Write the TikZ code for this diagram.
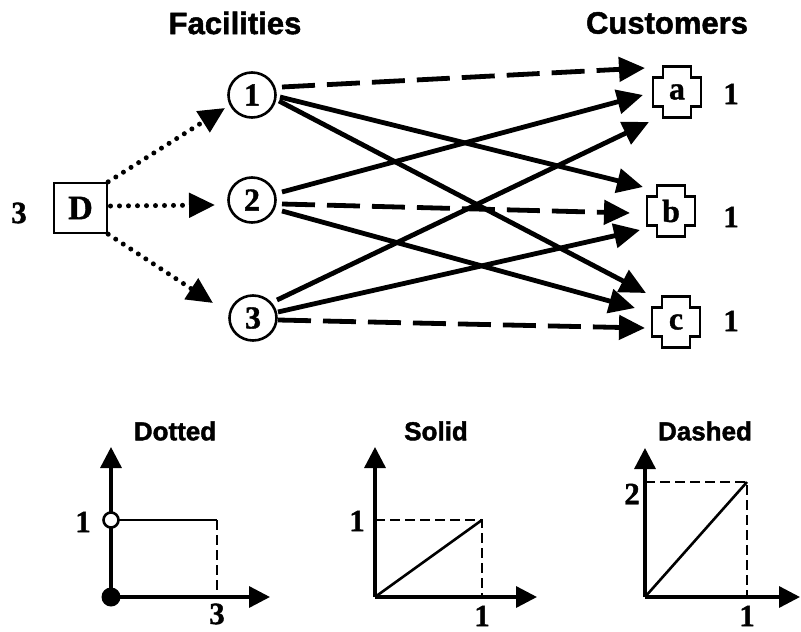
\documentclass[tikz,border=0pt]{standalone}
\usepackage{fontspec}
\setmainfont{Liberation Serif}[BoldFeatures={FakeBold=1.2}]
\newfontfamily\headfont{Liberation Sans}[BoldFeatures={FakeBold=1.6}]
\usetikzlibrary{arrows.meta,shapes.geometric,calc}

\tikzset{
  head/.style={font=\headfont\fontsize{31}{31}\selectfont\bfseries},
  subhead/.style={font=\headfont\fontsize{26}{26}\selectfont\bfseries},
  num/.style={font=\fontsize{31}{31}\selectfont\bfseries, inner sep=0pt},
  depot/.style={rectangle, draw, line width=2.4pt, minimum width=53pt, minimum height=50pt,
    inner sep=0pt, font=\fontsize{34}{34}\selectfont\bfseries},
  fac/.style={ellipse, draw, line width=2.6pt, minimum width=47pt, minimum height=45pt,
    inner sep=0pt, font=\fontsize{32}{32}\selectfont\bfseries},
  cust/.style={rectangle, draw=none, minimum width=48pt, minimum height=51pt,
    inner sep=0pt, font=\fontsize{32}{32}\selectfont\bfseries},
  custline/.style={line width=2.6pt, line join=miter},
  bigtip/.style={-{Triangle[length=26pt,width=24pt]}},
  flow/.style={bigtip, line width=4.8pt},
  dashflow/.style={flow, dash pattern=on 33pt off 12pt},
  dotflow/.style={bigtip, line width=5pt, line cap=round, dash pattern=on 0pt off 9pt},
  axis/.style={line width=3.4pt, -{Triangle[length=21pt,width=21pt]}},
  guide/.style={line width=2.6pt, dash pattern=on 10pt off 5pt},
  diag/.style={line width=2.6pt},
}

\begin{document}
\begin{tikzpicture}[x=1pt, y=-1pt]
\useasboundingbox (0,0) rectangle (801,632);

% column headings
\node[head] (hf) at (235,23) {Facilities};
\node[head] (hc) at (667,23) {Customers};

% depot, facilities, customers
\node[depot] (D) at (80.5,208) {D};
\node[num] (Dcap) at (19,213) {3};

\node[fac] (f1) at (252,95) {1};
\node[fac] (f2) at (252,200) {2};
\node[fac] (f3) at (253,318) {3};

\node[cust] (a) at (677,92) {a};
\node[cust] (b) at (671,211) {b};
\node[cust] (c) at (676,322) {c};

\node[num] (da) at (731,94) {1};
\node[num] (db) at (731,217) {1};
\node[num] (dc) at (731,321) {1};

% notched outline of the customer nodes
\foreach \n in {a,b,c}{
  \draw[custline]
    ([shift={(-14,-25.5)}]\n.center) -- ([shift={(14,-25.5)}]\n.center)
    -- ([shift={(14,-14.5)}]\n.center) -- ([shift={(24,-14.5)}]\n.center)
    -- ([shift={(24,14.5)}]\n.center) -- ([shift={(14,14.5)}]\n.center)
    -- ([shift={(14,25.5)}]\n.center) -- ([shift={(-14,25.5)}]\n.center)
    -- ([shift={(-14,14.5)}]\n.center) -- ([shift={(-24,14.5)}]\n.center)
    -- ([shift={(-24,-14.5)}]\n.center) -- ([shift={(-14,-14.5)}]\n.center)
    -- cycle;
}

% depot to facilities (dotted)
\draw[dotflow] (D.north east) -- ([shift={(-27,13)}]f1.center);
\draw[dotflow] ([shift={(30,-2)}]D.center) -- ([shift={(-37,5)}]f2.center);
\draw[dotflow] (D.south east) -- ([shift={(-40,-15)}]f3.center);

% facility 1
\draw[dashflow] ([shift={(30,-8)}]f1.center) -- ([shift={(-32,-24)}]a.center);
\draw[flow] ([shift={(28,2)}]f1.center) -- ([shift={(-28,-24)}]b.center);
\draw[flow] ([shift={(27,6)}]f1.center) -- ([shift={(-30,-29)}]c.center);

% facility 2
\draw[flow] ([shift={(30,-8)}]f2.center) -- ([shift={(-34,3)}]a.center);
\draw[dashflow] ([shift={(30,4)}]f2.center) -- ([shift={(-41,2)}]b.center);
\draw[flow] ([shift={(30,11)}]f2.center) -- ([shift={(-41,-14)}]c.center);

% facility 3
\draw[flow] ([shift={(24,-18)}]f3.center) -- ([shift={(-28,30)}]a.center);
\draw[flow] ([shift={(25,-6)}]f3.center) -- ([shift={(-31,19)}]b.center);
\draw[dashflow] ([shift={(25,2)}]f3.center) -- ([shift={(-31,6)}]c.center);

% cost curve: dotted arcs
\node[subhead] (tdot) at (175,431) {Dotted};
\coordinate (o1) at (111,597);
\draw[axis] (o1) -- (111,447);
\draw[axis] (o1) -- (270,597);
\draw[diag] (118,520) -- (217,520);
\draw[guide] (217,520) -- (217,597);
\fill (o1) circle[radius=9.5pt];
\draw[line width=2.6pt, fill=white] (111,520) circle[radius=7.5pt];
\node[num] (l1a) at (83,522) {1};
\node[num] (l1b) at (217,614) {3};

% cost curve: solid arcs
\node[subhead] (tsol) at (436,431) {Solid};
\coordinate (o2) at (375,597);
\draw[axis] (o2) -- (375,447);
\draw[axis] (o2) -- (537,597);
\draw[guide] (375,520) -- (482,520) -- (482,597);
\draw[diag] (o2) -- (482,520);
\node[num] (l2a) at (357,521) {1};
\node[num] (l2b) at (482,616) {1};

% cost curve: dashed arcs
\node[subhead] (tdash) at (705,431) {Dashed};
\coordinate (o3) at (645,597);
\draw[axis] (o3) -- (645,448);
\draw[axis] (o3) -- (800,597);
\draw[guide] (645,482) -- (747,482) -- (747,597);
\draw[diag] (o3) -- (747,482);
\node[num] (l3a) at (632,494) {2};
\node[num] (l3b) at (747,616) {1};
\end{tikzpicture}
\end{document}
